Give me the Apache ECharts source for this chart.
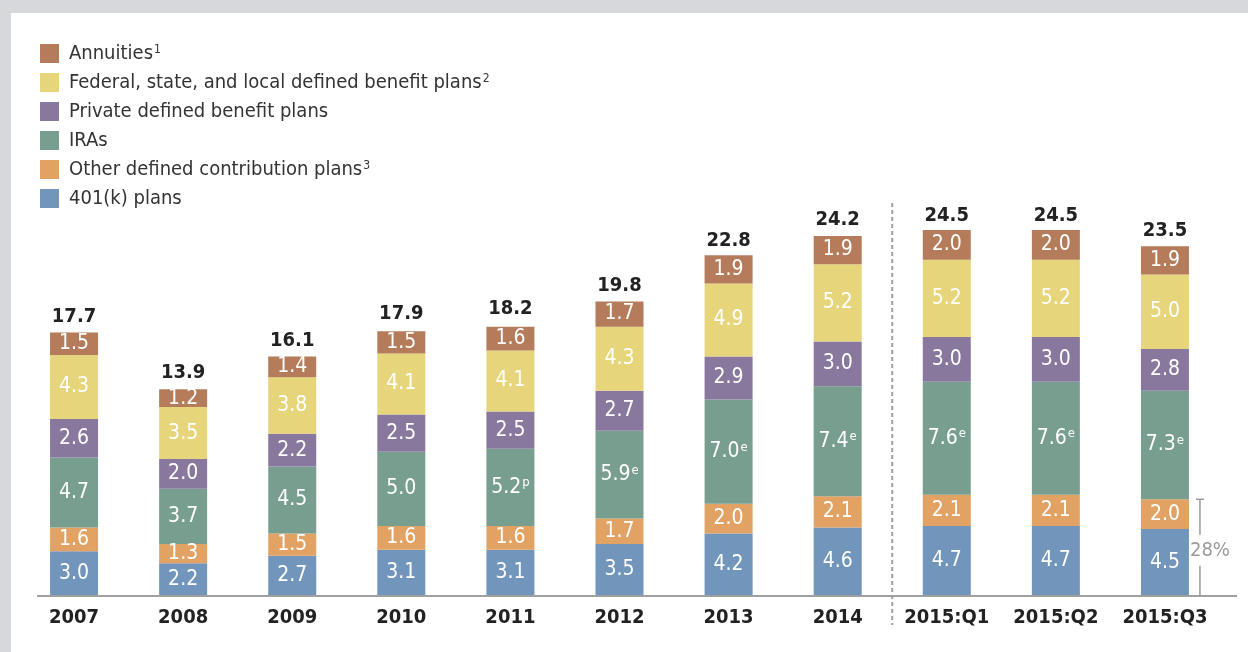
<!DOCTYPE html>
<html>
<head>
<meta charset="utf-8">
<script src="https://cdn.jsdelivr.net/npm/echarts@6/dist/echarts.min.js"></script>
<style>
html,body{margin:0;padding:0;width:1248px;height:652px;background:#d7d8dc;overflow:hidden;}
#chart{position:absolute;left:11px;top:13px;width:1237px;height:639px;background:#ffffff;}
</style>
</head>
<body>
<div id="chart"></div>
<script>
const categories = ['2007','2008','2009','2010','2011','2012','2013','2014','2015:Q1','2015:Q2','2015:Q3'];
const k401 = [3.0,2.2,2.7,3.1,3.1,3.5,4.2,4.6,4.7,4.7,4.5];
const otherDC = [1.6,1.3,1.5,1.6,1.6,1.7,2.0,2.1,2.1,2.1,2.0];
const iras = [4.7,3.7,4.5,5.0,5.2,5.9,7.0,7.4,7.6,7.6,7.3];
const iraMarks = ['','','','','p','e','e','e','e','e','e'];
const privateDB = [2.6,2.0,2.2,2.5,2.5,2.7,2.9,3.0,3.0,3.0,2.8];
const govDB = [4.3,3.5,3.8,4.1,4.1,4.3,4.9,5.2,5.2,5.2,5.0];
const annuities = [1.5,1.2,1.4,1.5,1.6,1.7,1.9,1.9,2.0,2.0,1.9];
const totals = [17.7,13.9,16.1,17.9,18.2,19.8,22.8,24.2,24.5,24.5,23.5];

const names = {
  ann: 'Annuities', gov: 'Federal, state, and local defined benefit plans',
  priv: 'Private defined benefit plans', ira: 'IRAs',
  other: 'Other defined contribution plans', k: '401(k) plans'
};
const legendSup = {};
legendSup[names.ann] = '1'; legendSup[names.gov] = '2'; legendSup[names.other] = '3';

const FONT = '"DejaVu Sans Condensed", "Liberation Sans Narrow", "DejaVu Sans", sans-serif';
const colors = {
  ann:'#b47c5a', gov:'#e7d57c', priv:'#89789e', ira:'#789e90', other:'#e2a263', k:'#7195bb'
};

function seg(name, data, color, marks) {
  return {
    name: name, type: 'bar', stack: 'total', data: data, barWidth: 48,
    itemStyle: { color: color },
    label: {
      show: true, position: 'inside', color: '#fff', fontFamily: FONT, fontSize: 21,
      formatter: function (p) {
        const v = p.value.toFixed(1);
        const m = marks ? marks[p.dataIndex] : '';
        return m ? '{v|' + v + '}{s|' + m + '}' : '{v|' + v + '}';
      },
      rich: {
        v: { color:'#fff', fontFamily: FONT, fontSize: 21, lineHeight: 22 },
        s: { color:'#fff', fontFamily: FONT, fontSize: 13, lineHeight: 13, verticalAlign: 'top', padding:[0,0,0,1] }
      }
    },
    emphasis: { disabled: true }
  };
}

const chart = echarts.init(document.getElementById('chart'));
const option = {
  animation: false,
  grid: { left: 8.5, right: 28.5, top: 136.6, bottom: 56, containLabel: false },
  legend: {
    orient: 'vertical', left: 29, top: 30.5, padding: 0, itemWidth: 19, itemHeight: 19, itemGap: 9,
    icon: 'rect', selectedMode: false,
    data: [names.ann, names.gov, names.priv, names.ira, names.other, names.k],
    formatter: function (n) { return legendSup[n] ? '{t|' + n + '}{s|' + legendSup[n] + '}' : '{t|' + n + '}'; },
    textStyle: {
      color: '#333', fontFamily: FONT, fontSize: 20, lineHeight: 20,
      rich: {
        t: { color: '#333', fontFamily: FONT, fontSize: 20, lineHeight: 20, padding: [0, 0, 0, 5] },
        s: { color: '#333', fontFamily: FONT, fontSize: 12, lineHeight: 12, verticalAlign: 'top', padding:[0,0,0,1] }
      }
    }
  },
  xAxis: {
    type: 'category', data: categories,
    axisLine: { show: false }, axisTick: { show: false },
    axisLabel: { interval: 0, color: '#222', fontFamily: FONT, fontWeight: 'bold', fontSize: 20, margin: 12 }
  },
  yAxis: { type: 'value', min: 0, max: 30, show: false, splitLine: { show: false } },
  series: [
    seg(names.k, k401, colors.k),
    seg(names.other, otherDC, colors.other),
    seg(names.ira, iras, colors.ira, iraMarks),
    seg(names.priv, privateDB, colors.priv),
    seg(names.gov, govDB, colors.gov),
    seg(names.ann, annuities, colors.ann),
    {
      name: 'Total', type: 'bar', data: totals, barWidth: 48, barGap: '-100%', z: 1,
      itemStyle: { color: 'rgba(0,0,0,0)' },
      label: { show: true, position: 'top', distance: 6, color: '#222', fontFamily: FONT, fontWeight: 'bold', fontSize: 20,
        formatter: function (p) { return p.value.toFixed(1); } },
      emphasis: { disabled: true }, silent: true
    }
  ]
};
chart.setOption(option);

// Annotations computed from the axes
const last = categories.length - 1;
const y0 = chart.convertToPixel({ gridIndex: 0 }, [0, 0])[1];
const dcTop = k401[last] + otherDC[last];
const yTop = chart.convertToPixel({ gridIndex: 0 }, [last, dcTop])[1];
const xQ3 = chart.convertToPixel({ gridIndex: 0 }, [last, 0])[0];
const bx = xQ3 + 24 + 11;
const share = Math.round(dcTop / totals[last] * 100) + '%';
const x14 = chart.convertToPixel({ gridIndex: 0 }, [7, 0])[0];
const xQ1 = chart.convertToPixel({ gridIndex: 0 }, [8, 0])[0];
const sepX = (x14 + xQ1) / 2;
const yMid = (y0 + yTop) / 2 + 3;
const lineStyle = { stroke: '#9a9a9a', lineWidth: 1.5 };
chart.setOption({
  graphic: [
    { type: 'line', shape: { x1: 26, y1: y0, x2: 1226, y2: y0 }, style: { stroke: '#a0a0a0', lineWidth: 2 }, z: 10 },
    { type: 'line', shape: { x1: sepX, y1: 190, x2: sepX, y2: 612 }, style: { stroke: '#a0a0a0', lineWidth: 2, lineDash: [4, 3] }, z: 10 },
    { type: 'line', shape: { x1: bx - 4, y1: yTop, x2: bx + 4, y2: yTop }, style: lineStyle, z: 10 },
    { type: 'line', shape: { x1: bx, y1: yTop, x2: bx, y2: yMid - 16 }, style: lineStyle, z: 10 },
    { type: 'line', shape: { x1: bx, y1: yMid + 15, x2: bx, y2: y0 }, style: lineStyle, z: 10 },
    { type: 'text', x: bx + 10, y: yMid, style: { text: share, fill: '#9a9a9a', font: '20px ' + FONT, align: 'center', verticalAlign: 'middle' }, z: 10 }
  ]
});
</script>
</body>
</html>
